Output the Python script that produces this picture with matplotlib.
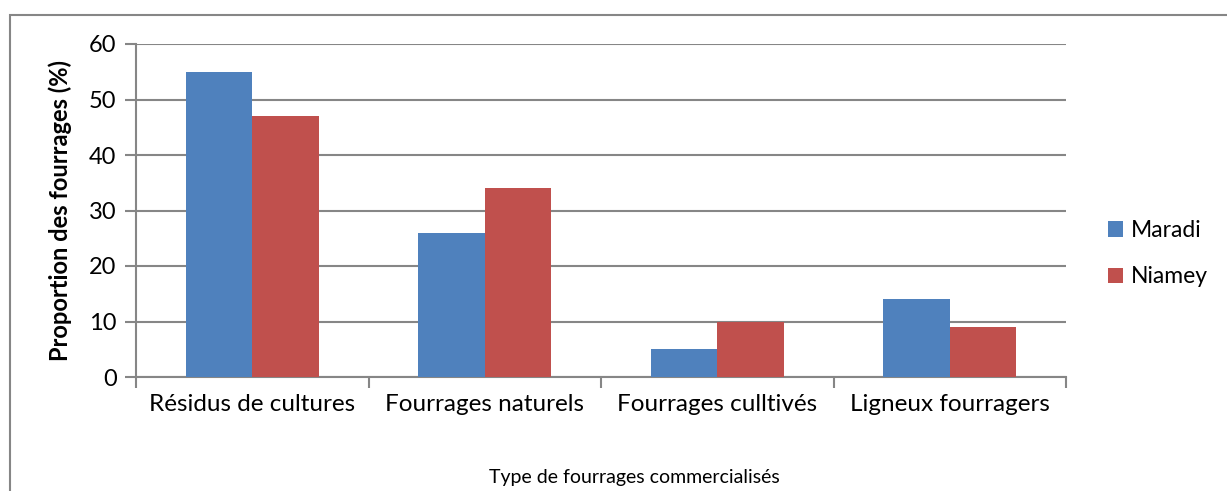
import matplotlib
matplotlib.use("Agg")
import matplotlib.pyplot as plt
from matplotlib.patches import Rectangle
import numpy as np

categories = ["Résidus de cultures", "Fourrages naturels", "Fourrages culltivés", "Ligneux fourragers"]
maradi = [55, 26, 5, 14]
niamey = [47, 34, 10, 9]
series_names = ["Maradi", "Niamey"]

plt.rcParams['font.family'] = ['Lato', 'DejaVu Sans']

grey = "#868686"
fig = plt.figure(figsize=(12.27, 4.91), dpi=100)
ax = fig.add_axes([136/1227, 1 - 377/491, 930/1227, 333/491])

x = np.arange(len(categories))
width = 0.286
ax.bar(x - width/2, maradi, width, color="#4F81BD", label=series_names[0], zorder=3)
ax.bar(x + width/2, niamey, width, color="#C0504D", label=series_names[1], zorder=3)

ax.set_xlim(-0.5, len(categories) - 0.5)
ax.set_ylim(0, 60)
ax.set_yticks(range(0, 61, 10))
ax.yaxis.grid(True, color=grey, linewidth=1.5, zorder=0)
ax.set_axisbelow(True)

# category labels centered, ticks at boundaries
ax.set_xticks(x)
ax.set_xticklabels(categories, fontsize=17.5)
ax.tick_params(axis='x', length=0, pad=12)
ax.set_xticks(np.arange(-0.5, len(categories)), minor=True)
ax.tick_params(axis='x', which='minor', length=8, width=1.5, color=grey)
ax.tick_params(axis='y', length=8, width=1.5, color=grey, labelsize=17, pad=6)

for s in ["top", "right"]:
    ax.spines[s].set_visible(False)
for s in ["left", "bottom"]:
    ax.spines[s].set_color(grey)
    ax.spines[s].set_linewidth(1.5)

ax.set_ylabel("Proportion des fourrages (%)", fontsize=17, fontweight="bold", labelpad=12)
fig.text(634/1227, 1 - 478/491, "Type de fourrages commercialisés", fontsize=14,
         ha="center", va="center")

ax.legend(loc="center left", bbox_to_anchor=(1.045, 0.37), frameon=False, fontsize=16.5,
          handlelength=0.65, handleheight=0.65, handletextpad=0.35, labelspacing=1.1,
          borderaxespad=0, borderpad=0)

# outer chart frame
fig.patches.append(Rectangle((10/1227, -0.1), 1.2, 1 - 15/491 + 0.1, transform=fig.transFigure,
                             fill=False, edgecolor=grey, linewidth=1.5))

fig.savefig("out.png", dpi=100)
